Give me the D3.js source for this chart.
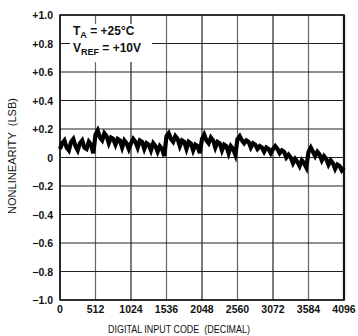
<!DOCTYPE html>
<html><head><meta charset="utf-8">
<script src="https://cdn.jsdelivr.net/npm/d3@7"></script>
<style>body{margin:0;background:#fff}svg{display:block}text{font-family:"Liberation Sans",Arial,sans-serif;fill:#111}</style>
</head><body><svg id="c" width="358" height="336"></svg>
<script>
const xTicks = [0, 512, 1024, 1536, 2048, 2560, 3072, 3584, 4096];
const yTicks = [1.0, 0.8, 0.6, 0.4, 0.2, 0, -0.2, -0.4, -0.6, -0.8, -1.0];
const yTickLabels = ["+1.0","+0.8","+0.6","+0.4","+0.2","0","\u22120.2","\u22120.4","\u22120.6","\u22120.8","\u22121.0"];
const codeStep = 32;
const nonlinearity = [
 0.06,0.10,0.12,0.07,0.05,0.11,0.13,0.08,0.05,0.10,0.12,0.07,0.06,0.11,0.09,0.03,
 0.16,0.19,0.14,0.12,0.17,0.15,0.10,0.14,0.13,0.09,0.13,0.12,0.07,0.12,0.10,0.06,
 0.10,0.13,0.11,0.07,0.12,0.11,0.06,0.10,0.09,0.05,0.10,0.08,0.04,0.08,0.06,0.01,
 0.15,0.17,0.13,0.11,0.15,0.13,0.08,0.12,0.11,0.06,0.11,0.10,0.05,0.09,0.08,0.03,
 0.13,0.16,0.12,0.10,0.14,0.12,0.07,0.11,0.10,0.05,0.09,0.08,0.03,0.08,0.06,0.02,
 0.13,0.15,0.12,0.10,0.12,0.11,0.07,0.10,0.09,0.06,0.08,0.07,0.04,0.07,0.06,0.03,
 0.06,0.08,0.06,0.03,0.05,0.04,0.00,0.02,0.00,-0.04,-0.01,-0.03,-0.06,-0.02,-0.04,-0.07,
 0.04,0.07,0.04,0.01,0.04,0.02,-0.02,0.01,-0.01,-0.05,-0.02,-0.04,-0.08,-0.05,-0.06,-0.09,
 -0.07
];
const codes = nonlinearity.map((_, i) => i * codeStep);
const note1 = {main:"T", sub:"A", rest:" = +25\u00B0C"};
const note2 = {main:"V", sub:"REF", rest:" = +10V"};
const xTitle = "DIGITAL INPUT CODE  (DECIMAL)";
const yTitle = "NONLINEARITY  (LSB)";

const svg = d3.select("#c");
const L = 60, R = 344, T = 15, B = 300;
const x = d3.scaleLinear().domain([0, 4096]).range([L, R]);
const y = d3.scaleLinear().domain([-1, 1]).range([B, T]);

// grid
const g = svg.append("g");
g.selectAll("line.v").data(xTicks).join("line")
  .attr("x1", d => x(d)).attr("x2", d => x(d)).attr("y1", T).attr("y2", B)
  .attr("stroke", (d,i) => i % 2 ? "#666" : "#222").attr("stroke-width", 1.2);
g.selectAll("line.h").data(yTicks).join("line")
  .attr("y1", d => y(d)).attr("y2", d => y(d)).attr("x1", L).attr("x2", R)
  .attr("stroke", "#222").attr("stroke-width", 1.2);

// note box
svg.append("rect").attr("x", 70).attr("y", 24).attr("width", 82).attr("height", 38).attr("fill", "#fff");
function note(n, yy) {
  const t = svg.append("text").attr("x", 73).attr("y", yy).attr("font-size", 12).attr("font-weight", "bold");
  t.append("tspan").text(n.main);
  t.append("tspan").attr("font-size", 9).attr("dy", 3).text(n.sub);
  t.append("tspan").attr("dy", -3).text(n.rest);
}
note(note1, 35);
note(note2, 52);

// frame
svg.append("rect").attr("x", L).attr("y", T).attr("width", R - L).attr("height", B - T)
  .attr("fill", "none").attr("stroke", "#111").attr("stroke-width", 1.5);
svg.append("line").attr("x1", R).attr("x2", R).attr("y1", T).attr("y2", B).attr("stroke", "#111").attr("stroke-width", 2.2);

// data line
const line = d3.line().x((d, i) => x(codes[i])).y(d => y(d)).curve(d3.curveLinear);
svg.append("path").datum(nonlinearity).attr("d", line)
  .attr("fill", "none").attr("stroke", "#000").attr("stroke-width", 4.2).attr("stroke-linejoin", "miter");

// y tick labels
svg.selectAll("text.yt").data(yTicks).join("text")
  .attr("x", 53).attr("y", d => y(d) + 4).attr("text-anchor", "end")
  .attr("font-size", 10.5).attr("font-weight", "bold").text((d, i) => yTickLabels[i]);
// x tick labels
svg.selectAll("text.xt").data(xTicks).join("text")
  .attr("x", d => x(d)).attr("y", 313).attr("text-anchor", "middle")
  .attr("font-size", 10.5).attr("font-weight", "bold").text(d => d);
// titles
svg.append("text").attr("x", 108).attr("y", 333)
  .attr("font-size", 10.5).attr("textLength", 142).attr("lengthAdjust", "spacingAndGlyphs")
  .style("white-space","pre").text(xTitle);
svg.append("text").attr("transform", "translate(16,214) rotate(-90)")
  .attr("font-size", 10.5).attr("textLength", 116).attr("lengthAdjust", "spacingAndGlyphs")
  .style("white-space","pre").text(yTitle);
</script></body></html>
